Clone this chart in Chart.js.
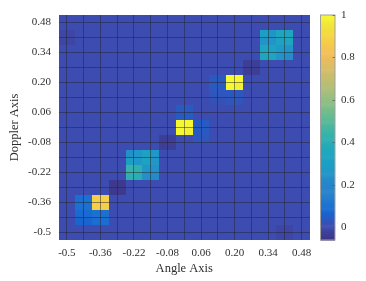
<!DOCTYPE html>
<html><head><meta charset="utf-8">
<script src="https://cdn.jsdelivr.net/npm/chart.js@4/dist/chart.umd.min.js"></script>
<style>html,body{margin:0;padding:0;background:#fff}#wrap{width:366px;height:281px}</style>
</head><body><div id="wrap"><canvas id="c" width="366" height="281"></canvas></div>
<script>
// ---- tick labels ----
const xTickLabels = ['-0.5','-0.36','-0.22','-0.08','0.06','0.20','0.34','0.48'];
const yTickLabels = ['-0.5','-0.36','-0.22','-0.08','0.06','0.20','0.34','0.48'];
const colorbarTicks = [0, 0.2, 0.4, 0.6, 0.8, 1];
const colorbarLabels = ['0','0.2','0.4','0.6','0.8','1'];
// ---- grid geometry (data units) ----
const cellEdgeMin = -0.535;
const cellSize = 0.035;
const nCells = 30;
const gridStart = -0.5;
const gridStep = 0.07;
const gridCount = 15;
const colorMin = -0.06, colorMax = 1;
// ---- heatmap values ----
const backgroundLevel = 0.008;
// each patch: start column, start row, rows listed bottom -> top
const patchTopRightCol = 24, patchTopRightRow = 24;
const patchTopRight = [
  [0.35, 0.35, 0.25, 0.23],
  [0.35, 0.33, 0.27, 0.25],
  [0.25, 0.25, 0.33, 0.35],
  [0.29, 0.25, 0.35, 0.35]
];
const patchUpperYellowCol = 18, patchUpperYellowRow = 18;
const patchUpperYellow = [
  [0.02, 0.02, 0.03, 0.03],
  [0.035, 0.035, 0.035, 0.035],
  [0.04, 0.04, 1.00, 0.98],
  [0.04, 0.04, 1.00, 1.00]
];
const patchCenterYellowCol = 14, patchCenterYellowRow = 13;
const patchCenterYellow = [
  [0.008, 0.008, 0.03, 0.03],
  [1.00, 0.98, 0.045, 0.045],
  [1.00, 1.00, 0.045, 0.045],
  [0.045, 0.045, 0.008, 0.008],
  [0.04, 0.04, 0.008, 0.008]
];
const patchCyanCol = 8, patchCyanRow = 8;
const patchCyan = [
  [0.42, 0.40, 0.24, 0.22],
  [0.44, 0.42, 0.26, 0.24],
  [0.29, 0.26, 0.33, 0.26],
  [0.24, 0.26, 0.33, 0.26]
];
const patchLowerYellowCol = 2, patchLowerYellowRow = 2;
const patchLowerYellow = [
  [0.07, 0.07, 0.09, 0.09],
  [0.08, 0.08, 0.10, 0.10],
  [0.10, 0.10, 0.88, 0.88],
  [0.09, 0.10, 0.88, 0.88]
];
const darkPatches = [ // [col, row, value]
  [22, 22, -0.03], [23, 22, -0.03], [22, 23, -0.03], [23, 23, -0.03],
  [12, 12, -0.03], [13, 12, -0.03], [12, 13, -0.03], [13, 13, -0.03],
  [6, 6, -0.045], [7, 6, -0.045], [6, 7, -0.045], [7, 7, -0.045],
  [0, 26, -0.01], [1, 26, -0.01], [0, 27, -0.01], [1, 27, -0.01],
  [26, 0, -0.01], [27, 0, -0.01], [26, 1, -0.01], [27, 1, -0.01]
];
// parula colormap anchors
const parula = [
  [0.2081,0.1663,0.5292],[0.1959,0.2645,0.7279],[0.0117,0.3875,0.8820],[0.0722,0.4887,0.8467],
  [0.0793,0.5200,0.8312],[0.0265,0.6137,0.8135],[0.0228,0.6535,0.7768],[0.0843,0.6928,0.7062],
  [0.2178,0.7250,0.6193],[0.3953,0.7459,0.5244],[0.5709,0.7485,0.4494],[0.7184,0.7411,0.3905],
  [0.8507,0.7299,0.3360],[0.9739,0.7314,0.2666],[0.9880,0.8066,0.1794],[0.9588,0.8949,0.1132],
  [0.9763,0.9831,0.0538]
];
const parulaPos = [0,4,8,12,16,20,24,28,32,36,40,44,48,52,56,60,63].map(k=>k/63);
const desaturate = 0.12, whiten = 0.04;

// ---- build matrix ----
const Z = [];
for (let j = 0; j < nCells; j++) { Z.push(new Array(nCells).fill(backgroundLevel)); }
function place(p, c0, r0){ p.forEach((row, r)=>row.forEach((v, c)=>{ Z[r0+r][c0+c] = v; })); }
place(patchTopRight, patchTopRightCol, patchTopRightRow);
place(patchUpperYellow, patchUpperYellowCol, patchUpperYellowRow);
place(patchCenterYellow, patchCenterYellowCol, patchCenterYellowRow);
place(patchCyan, patchCyanCol, patchCyanRow);
place(patchLowerYellow, patchLowerYellowCol, patchLowerYellowRow);
darkPatches.forEach(([c, r, v])=>{ Z[r][c] = v; });

const cells = [];
for (let j = 0; j < nCells; j++) for (let i = 0; i < nCells; i++) {
  cells.push({x: cellEdgeMin + (i + 0.5) * cellSize, y: cellEdgeMin + (j + 0.5) * cellSize, v: Z[j][i]});
}
const gridValues = Array.from({length: gridCount}, (_, k) => +(gridStart + k * gridStep).toFixed(4));

function colorFor(v){
  let t = (v - colorMin) / (colorMax - colorMin);
  t = Math.max(0, Math.min(1, t));
  let k = 0;
  while (k < parulaPos.length - 2 && t > parulaPos[k+1]) k++;
  const f = (t - parulaPos[k]) / (parulaPos[k+1] - parulaPos[k]);
  const a = parula[k], b = parula[k+1];
  const c = [0,1,2].map(n => a[n] + (b[n]-a[n]) * f);
  const L = 0.3*c[0] + 0.59*c[1] + 0.11*c[2];
  const out = c.map(x => { const d = x*(1-desaturate) + L*desaturate; return Math.round(255 * (d*(1-whiten) + whiten)); });
  return 'rgb(' + out.join(',') + ')';
}

const heatmapPlugin = {
  id: 'heatmap',
  beforeDatasetsDraw(chart){
    const ctx = chart.ctx, xs = chart.scales.x, ys = chart.scales.y;
    const half = cellSize / 2;
    const px = v => Math.round(xs.getPixelForValue(+v.toFixed(6)));
    const py = v => Math.round(ys.getPixelForValue(+v.toFixed(6)));
    ctx.save();
    chart.data.datasets[0].data.forEach(d => {
      const x0 = px(d.x - half), x1 = px(d.x + half);
      const y0 = py(d.y + half), y1 = py(d.y - half);
      ctx.fillStyle = colorFor(d.v);
      ctx.fillRect(x0, y0, x1 - x0, y1 - y0);
    });
    // colorbar
    const cb = chart.scales.cb;
    const left = cb.left + 10.5, w = 14.5;
    const steps = 212;
    for (let s = 0; s < steps; s++) {
      const v0 = colorMin + (colorMax - colorMin) * s / steps;
      const v1 = colorMin + (colorMax - colorMin) * (s + 1) / steps;
      const yA = cb.getPixelForValue(v1), yB = cb.getPixelForValue(v0);
      ctx.fillStyle = colorFor((v0 + v1) / 2);
      ctx.fillRect(left, yA, w, yB - yA + 0.6);
    }
    ctx.strokeStyle = 'rgba(160,160,160,1)';
    ctx.lineWidth = 1;
    ctx.strokeRect(left, cb.getPixelForValue(colorMax), w, cb.getPixelForValue(colorMin) - cb.getPixelForValue(colorMax));
    ctx.strokeStyle = 'rgba(90,90,90,0.7)';
    colorbarTicks.forEach(v => {
      const y = Math.round(cb.getPixelForValue(v)) + 0.5;
      ctx.beginPath(); ctx.moveTo(left + w - 2.5, y); ctx.lineTo(left + w, y); ctx.stroke();
    });
    ctx.restore();
  }
};

const tickFont = {family: 'Liberation Serif', size: 11};
const titleFont = {family: 'Liberation Serif', size: 12.5};
const textColor = '#2e2e2e';
const gridColor = 'rgba(35,35,45,0.5)';

new Chart(document.getElementById('c'), {
  type: 'scatter',
  data: { datasets: [{ data: cells, pointRadius: 0, pointHoverRadius: 0, pointHitRadius: 0 }] },
  options: {
    responsive: false, animation: false,
    layout: { padding: { top: 15, left: 0, right: 0, bottom: 0 } },
    plugins: { legend: {display: false}, tooltip: {enabled: false} },
    events: [],
    scales: {
      x: {
        type: 'linear', position: 'bottom', min: cellEdgeMin, max: cellEdgeMin + nCells * cellSize,
        afterBuildTicks: s => { s.ticks = gridValues.map(v => ({value: v})); },
        afterFit: s => { s.height = 41; s.paddingLeft = 0; s.paddingRight = 0; },
        ticks: { autoSkip: false, maxRotation: 0, padding: 7, font: tickFont, color: textColor,
          callback: (v, i) => (i % 2 === 0 ? xTickLabels[i/2] : '') },
        grid: { color: gridColor, lineWidth: 1, drawTicks: false, z: 1 },
        border: { display: false },
        title: { display: true, text: 'Angle Axis', font: titleFont, color: textColor, padding: {top: 0, bottom: 4.5} }
      },
      y: {
        type: 'linear', position: 'left', min: cellEdgeMin, max: cellEdgeMin + nCells * cellSize,
        afterBuildTicks: s => { s.ticks = gridValues.map(v => ({value: v})); },
        afterFit: s => { s.width = 58.5; s.paddingTop = 0; s.paddingBottom = 0; },
        ticks: { autoSkip: false, padding: 7.5, font: tickFont, color: textColor,
          callback: (v, i) => (i % 2 === 0 ? yTickLabels[i/2] : '') },
        grid: { color: gridColor, lineWidth: 1, drawTicks: false, z: 1 },
        border: { display: false },
        title: { display: true, text: 'Doppler Axis', font: titleFont, color: textColor, padding: {top: 7, bottom: 0} }
      },
      cb: {
        type: 'linear', position: 'right', axis: 'y', min: colorMin, max: colorMax,
        afterBuildTicks: s => { s.ticks = colorbarTicks.map(v => ({value: v})); },
        afterFit: s => { s.width = 56; s.paddingTop = 0; s.paddingBottom = 0; },
        ticks: { autoSkip: false, padding: 31, font: tickFont, color: textColor,
          callback: (v, i) => colorbarLabels[i] },
        grid: { display: false, drawTicks: false },
        border: { display: false }
      }
    }
  },
  plugins: [heatmapPlugin]
});
</script>
</body></html>
